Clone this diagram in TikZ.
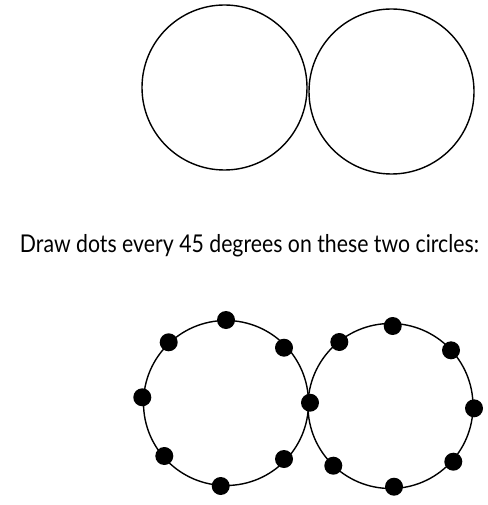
\documentclass[tikz,border=0pt]{standalone}
\usepackage{fontspec}
\setmainfont{Lato}
\tikzset{
	ring/.style={line width=1.4pt},
	blob/.style={fill=black}
}
\begin{document}
\begin{tikzpicture}[x=1pt, y=-1pt]
	\useasboundingbox (0,0) rectangle (487,505);
	% upper pair, empty
	\draw[ring] (224.5,87.5) circle (82.5);
	\draw[ring] (391.5,91.5) circle (82.5);
	\node[anchor=base, inner sep=0pt] (task) at (249.5,252.7) {\resizebox{459pt}{\height}{\fontsize{24.5}{28}\selectfont Draw dots every 45 degrees on these two circles:}};
	% lower pair, with dots
	\draw[ring] (226,403) circle (82.5);
	\draw[ring] (390.5,406) circle (82.5);
	\foreach \x/\y in {226/320, 284/347.7, 284/459, 220.7/486, 164.3/456, 142.3/397.3, 168.7/342.3,
		310/402.7,
		392.7/326, 451/350.3, 474/408.3, 453.3/461.7, 394/486.7, 333.3/465.7, 339.3/342}{
		\fill[blob] (\x,\y) circle (9);
	}
\end{tikzpicture}
\end{document}
